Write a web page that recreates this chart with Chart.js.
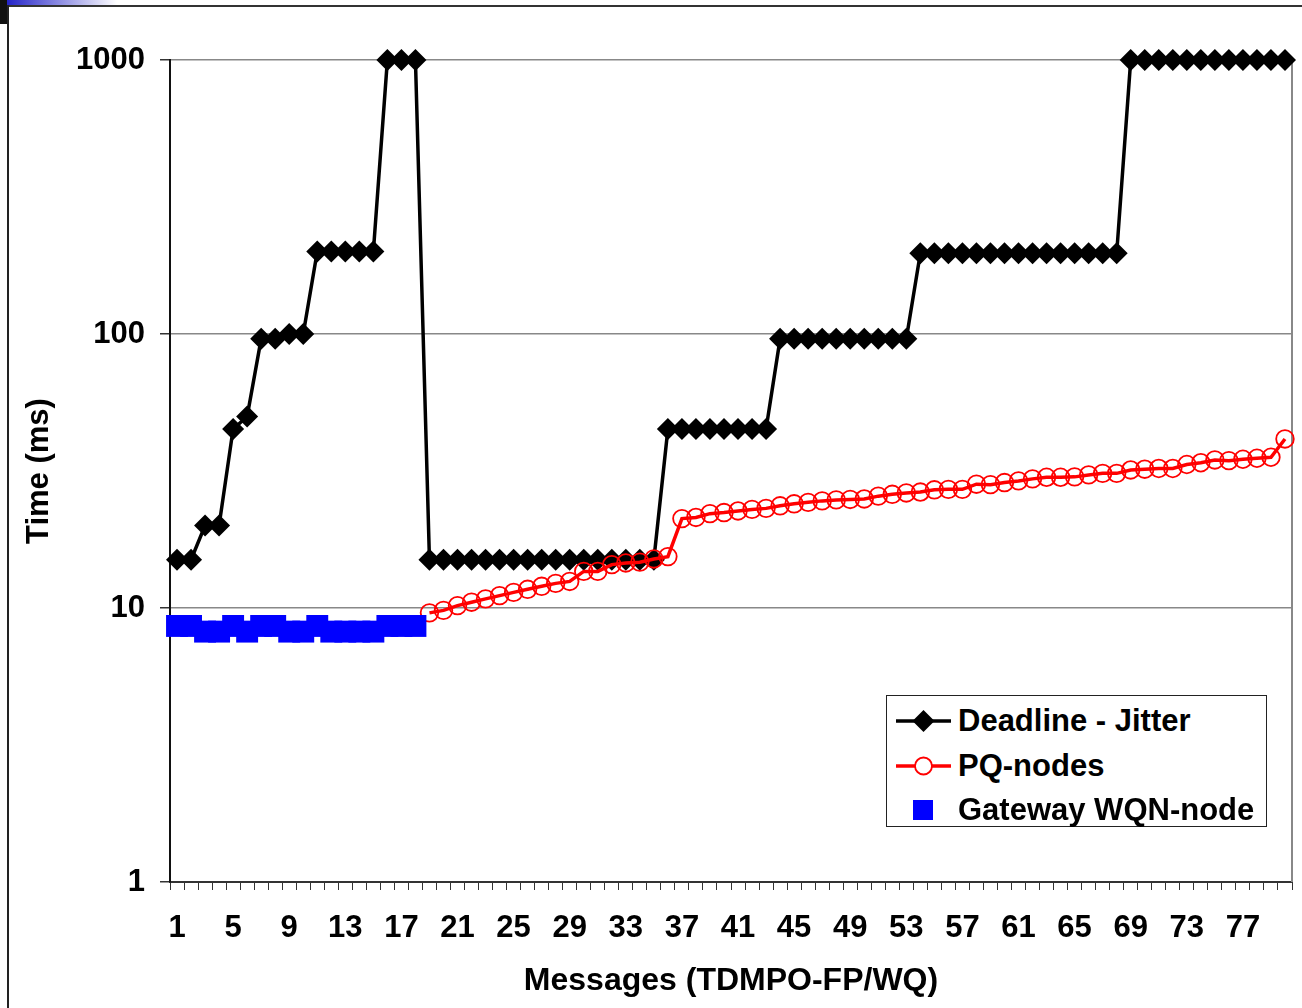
<!DOCTYPE html>
<html>
<head>
<meta charset="utf-8">
<title>Deadline - Jitter vs PQ-nodes</title>
<script src="https://cdn.jsdelivr.net/npm/chart.js@4.4.0/dist/chart.umd.min.js"></script>
<style>
  html, body { margin: 0; padding: 0; background: #fff; }
  #wrap { position: relative; width: 1302px; height: 1008px; overflow: hidden; background: #fff; }
  #chart { position: absolute; left: 0; top: 0; }
  .frame-top { position: absolute; left: 8px; top: 5px; width: 1294px; height: 2px; background: #333; }
  .frame-left { position: absolute; left: 7px; top: 0; width: 2px; height: 1008px; background: #222; }
  .corner-blue { position: absolute; left: 7px; top: 0; width: 110px; height: 5px; background: linear-gradient(to right, #2424c8, #ffffff); }
  .corner-black { position: absolute; left: 0; top: 0; width: 7px; height: 24px; background: #111; }
  #legend {
    position: absolute; left: 886px; top: 695px; width: 379px; height: 130px;
    border: 1px solid #222; background: #fff;
    font-family: "Liberation Sans", Arial, sans-serif; font-weight: bold; font-size: 31px; color: #000;
  }
  #legend .row { position: absolute; left: 8px; height: 30px; display: flex; align-items: center; }
  #legend svg { width: 58px; height: 30px; margin-right: 5px; }
</style>
</head>
<body>
<div id="wrap">
  <canvas id="chart" width="1302" height="1008"></canvas>
  <div class="frame-top"></div>
  <div class="frame-left"></div>
  <div class="corner-blue"></div>
  <div class="corner-black"></div>
  <div id="legend">
    <div class="row" style="top:10px">
      <svg viewBox="0 0 58 30"><line x1="1" y1="15" x2="56" y2="15" stroke="#000" stroke-width="3.5"/><polygon points="28.5,4 39.5,15 28.5,26 17.5,15" fill="#000"/></svg>
      <span>Deadline - Jitter</span>
    </div>
    <div class="row" style="top:55px">
      <svg viewBox="0 0 58 30"><line x1="1" y1="15" x2="56" y2="15" stroke="#ff0000" stroke-width="3.5"/><circle cx="28.5" cy="15" r="8.5" fill="#fff" stroke="#ff0000" stroke-width="1.8"/></svg>
      <span>PQ-nodes</span>
    </div>
    <div class="row" style="top:99px">
      <svg viewBox="0 0 58 30"><rect x="18" y="5" width="20" height="20" fill="#0000ff"/></svg>
      <span>Gateway WQN-node</span>
    </div>
  </div>
</div>
<script>
const messages = ['1','2','3','4','5','6','7','8','9','10','11','12','13','14','15','16','17','18','19','20',
  '21','22','23','24','25','26','27','28','29','30','31','32','33','34','35','36','37','38','39','40',
  '41','42','43','44','45','46','47','48','49','50','51','52','53','54','55','56','57','58','59','60',
  '61','62','63','64','65','66','67','68','69','70','71','72','73','74','75','76','77','78','79','80'];

const deadlineJitter = [15, 15, 20, 20, 45, 50, 96, 96, 100, 100,
  200, 200, 200, 200, 200, 1000, 1000, 1000,
  15, 15, 15, 15, 15, 15, 15, 15, 15, 15, 15, 15, 15, 15, 15, 15, 15,
  45, 45, 45, 45, 45, 45, 45, 45,
  96, 96, 96, 96, 96, 96, 96, 96, 96, 96,
  197, 197, 197, 197, 197, 197, 197, 197, 197, 197, 197, 197, 197, 197, 197,
  1000, 1000, 1000, 1000, 1000, 1000, 1000, 1000, 1000, 1000, 1000, 1000];

const pqNodes = [null, null, null, null, null, null, null, null, null, null,
  null, null, null, null, null, null, null, null,
  9.6, 9.8, 10.2, 10.5, 10.8, 11.1, 11.4, 11.7, 12.0, 12.3,
  12.5, 13.6, 13.6, 14.4, 14.6, 14.7, 15.1, 15.4, 21.2, 21.4,
  22.1, 22.3, 22.6, 22.9, 23.1, 23.6, 24.0, 24.3, 24.6, 24.8,
  24.9, 25.0, 25.6, 26.0, 26.3, 26.5, 27.0, 27.1, 27.1, 28.3,
  28.2, 28.7, 29.1, 29.6, 30.0, 30.0, 30.1, 30.6, 31.0, 31.0,
  31.9, 32.1, 32.3, 32.3, 33.4, 33.9, 34.7, 34.5, 34.9, 35.2,
  35.5, 41.4];

const gatewayWqn = [8.6, 8.6, 8.2, 8.2, 8.6, 8.2, 8.6, 8.6, 8.2, 8.2,
  8.6, 8.2, 8.2, 8.2, 8.2, 8.6, 8.6, 8.6];

const yTicks = [1, 10, 100, 1000];

const FONT = '"Liberation Sans", Arial, sans-serif';
Chart.defaults.font.family = FONT;
Chart.defaults.color = '#000';

// gray right edge of the plot area, like the Excel plot frame
const plotFrame = {
  id: 'plotFrame',
  beforeDatasetsDraw(chart) {
    const { ctx, chartArea: a } = chart;
    ctx.save();
    ctx.strokeStyle = '#888';
    ctx.lineWidth = 2;
    ctx.beginPath();
    ctx.moveTo(a.right, a.top);
    ctx.lineTo(a.right, a.bottom);
    ctx.stroke();
    ctx.restore();
  }
};

new Chart(document.getElementById('chart'), {
  type: 'line',
  data: {
    labels: messages,
    datasets: [
      {
        label: 'Deadline - Jitter', data: deadlineJitter, order: 3, clip: false,
        borderColor: '#000', borderWidth: 3.5, tension: 0,
        pointStyle: 'rectRot', pointRadius: 11, pointBackgroundColor: '#000', pointBorderColor: '#000', pointBorderWidth: 0
      },
      {
        label: 'PQ-nodes', data: pqNodes, order: 2, clip: false, spanGaps: false,
        borderColor: '#ff0000', borderWidth: 3.5, tension: 0,
        pointStyle: 'circle', pointRadius: 8.8, pointBackgroundColor: 'rgba(0,0,0,0)', pointBorderColor: '#ff0000', pointBorderWidth: 1.8
      },
      {
        label: 'Gateway WQN-node', data: gatewayWqn, order: 1, clip: false, showLine: false,
        pointStyle: 'rect', pointRadius: 15.5, pointBackgroundColor: '#0000ff', pointBorderColor: '#0000ff', pointBorderWidth: 0
      }
    ]
  },
  options: {
    responsive: false,
    animation: false,
    layout: { autoPadding: false, padding: { left: 8, top: 60, right: 10, bottom: 0 } },
    plugins: { legend: { display: false }, tooltip: { enabled: false } },
    scales: {
      x: {
        type: 'category',
        offset: true,
        grid: { offset: true, drawOnChartArea: false, drawTicks: true, tickLength: 8, color: '#333', lineWidth: 1 },
        border: { color: '#333', width: 2 },
        ticks: {
          autoSkip: false, maxRotation: 0, minRotation: 0, padding: 2, color: '#000',
          font: { size: 31, weight: 'bold', lineHeight: 2.36 },
          callback: (v, i) => (i % 4 === 0 ? messages[i] : '')
        },
        title: {
          display: true, text: 'Messages (TDMPO-FP/WQ)', color: '#000',
          font: { size: 32, weight: 'bold' }, padding: { top: 0, bottom: 8 }
        },
        afterFit: s => { s.height = 126; s.paddingLeft = 0; s.paddingRight = 0; }
      },
      y: {
        type: 'logarithmic',
        min: 1,
        max: 1000,
        afterBuildTicks: s => { s.ticks = yTicks.map(v => ({ value: v })); },
        grid: { color: '#888', tickColor: '#333', tickLength: 10, lineWidth: 1.5 },
        border: { color: '#111', width: 2 },
        ticks: {
          padding: 15, color: '#000', font: { size: 31, weight: 'bold' },
          callback: v => String(v)
        },
        title: {
          display: true, text: 'Time (ms)', color: '#000',
          font: { size: 31, weight: 'bold' }, padding: { top: 13, bottom: 0 }
        },
        afterFit: s => { s.width = 162; }
      }
    }
  },
  plugins: [plotFrame]
});
</script>
</body>
</html>
